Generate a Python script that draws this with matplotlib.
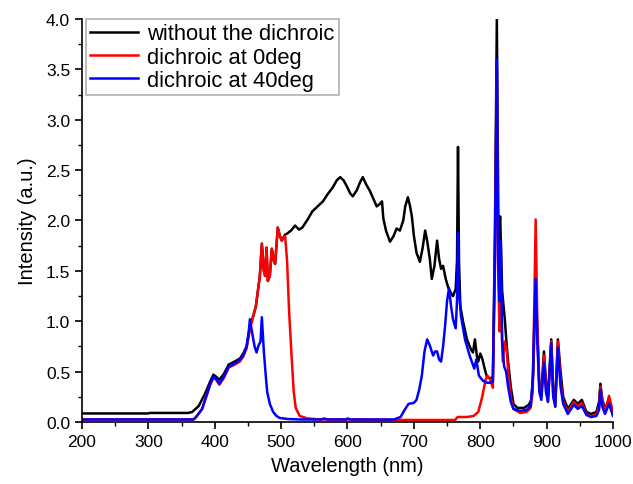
import matplotlib
matplotlib.use("Agg")
import matplotlib.pyplot as plt
from matplotlib.ticker import MultipleLocator

plt.rcParams["font.family"] = ["Liberation Sans", "DejaVu Sans"]

# spectra (wavelength in nm, intensity in a.u.)
wl_black = [200, 300, 302, 360, 366, 376, 386, 393, 398, 402, 407, 414, 421, 430, 438, 443, 448,
            453, 458, 462, 465, 468, 471, 474, 476, 478, 480, 483, 486, 489, 491, 495, 498, 501, 506,
            509, 515, 521, 527, 532, 540, 547, 555, 563, 570, 578, 584, 589, 594, 599, 604, 608, 614,
            619, 623, 628, 634, 640, 644, 648, 652, 654, 658, 664, 669, 674, 679, 684, 687, 691, 694,
            697, 700, 704, 709, 713, 717, 720, 724, 727, 731, 735, 738, 741, 744, 748, 752, 756, 759,
            763, 765, 766.5, 768, 770, 774, 780, 786, 789, 792, 795, 797, 800, 803, 807, 810, 815, 819,
            822, 825, 827.5, 830, 833, 837, 840, 842, 846, 850, 856, 866, 873, 877, 880, 883.5, 886,
            889, 892, 896, 899, 902, 907, 910, 913, 917, 921, 925, 932, 941, 947, 953, 960, 967, 975,
            979, 981, 984, 988, 994, 997, 1000]
black = [0.085, 0.085, 0.09, 0.09, 0.10, 0.16, 0.29, 0.40, 0.47, 0.45, 0.42, 0.48, 0.57, 0.60, 0.63,
         0.68, 0.75, 0.95, 1.05, 1.15, 1.30, 1.45, 1.77, 1.50, 1.45, 1.73, 1.40, 1.45, 1.72, 1.60,
         1.57, 1.93, 1.85, 1.80, 1.86, 1.87, 1.90, 1.95, 1.91, 1.93, 2.01, 2.09, 2.14, 2.19, 2.26,
         2.33, 2.40, 2.43, 2.40, 2.34, 2.27, 2.24, 2.30, 2.38, 2.43, 2.36, 2.29, 2.20, 2.14, 2.16,
         2.19, 2.02, 1.90, 1.79, 1.84, 1.92, 1.90, 2.00, 2.14, 2.23, 2.15, 2.04, 1.85, 1.68, 1.59,
         1.72, 1.90, 1.80, 1.62, 1.42, 1.55, 1.80, 1.62, 1.52, 1.55, 1.42, 1.33, 1.28, 1.25, 1.32,
         1.60, 2.73, 1.60, 1.15, 1.00, 0.82, 0.72, 0.69, 0.82, 0.65, 0.60, 0.68, 0.63, 0.52, 0.45,
         0.43, 0.45, 1.80, 4.00, 1.80, 2.04, 1.30, 1.02, 0.75, 0.60, 0.35, 0.18, 0.14, 0.14, 0.17,
         0.22, 0.50, 1.45, 0.90, 0.35, 0.30, 0.70, 0.40, 0.26, 0.82, 0.30, 0.22, 0.82, 0.50, 0.25,
         0.13, 0.22, 0.18, 0.22, 0.10, 0.08, 0.10, 0.20, 0.38, 0.22, 0.13, 0.22, 0.16, 0.08]

wl_red = [200, 368, 372, 381, 387, 393, 398, 402, 407, 414, 421, 430, 438, 443, 448, 453, 458, 462,
          465, 468, 471, 474, 476, 478, 480, 483, 486, 489, 491, 495, 498, 501, 506, 509, 512, 516,
          519, 522, 528, 540, 560, 600, 700, 762, 766, 780, 790, 797, 803, 808, 811, 815, 819, 822,
          825, 827, 829, 831, 834, 837, 840, 842, 846, 850, 860, 870, 876, 879, 881, 883.5, 886, 889,
          892, 896, 899, 902, 907, 910, 913, 917, 921, 925, 932, 941, 947, 953, 960, 967, 975, 979,
          981, 984, 988, 994, 997, 1000]
red = [0.025, 0.025, 0.05, 0.13, 0.25, 0.37, 0.44, 0.42, 0.37, 0.44, 0.54, 0.57, 0.60, 0.65, 0.73,
       0.92, 1.05, 1.15, 1.30, 1.45, 1.77, 1.50, 1.45, 1.73, 1.40, 1.45, 1.72, 1.60, 1.57, 1.93,
       1.85, 1.80, 1.85, 1.60, 1.10, 0.63, 0.30, 0.14, 0.06, 0.035, 0.025, 0.025, 0.02, 0.02, 0.05,
       0.05, 0.06, 0.10, 0.25, 0.42, 0.46, 0.42, 0.34, 1.50, 3.50, 1.50, 0.90, 1.20, 0.60, 0.80,
       0.70, 0.50, 0.25, 0.13, 0.09, 0.10, 0.14, 0.30, 1.00, 2.01, 1.00, 0.35, 0.25, 0.66, 0.35,
       0.20, 0.80, 0.25, 0.18, 0.80, 0.40, 0.20, 0.10, 0.20, 0.15, 0.19, 0.08, 0.05, 0.08, 0.15,
       0.35, 0.20, 0.10, 0.26, 0.18, 0.07]

wl_blue = [200, 368, 372, 381, 387, 393, 398, 402, 407, 414, 421, 430, 438, 443, 448, 451, 453, 456,
           460, 463, 466, 469, 471, 474, 477, 479, 483, 488, 493, 498, 510, 530, 560, 565, 570, 598,
           600, 605, 670, 680, 686, 692, 700, 704, 708, 712, 716, 720, 724, 729, 732, 735, 738, 741,
           744, 747, 750, 753, 756, 759, 763, 765, 766.5, 768, 771, 777, 784, 791, 794, 798, 804, 810,
           816, 819, 822, 825, 827, 829, 831, 833, 836, 839, 842, 846, 850, 860, 870, 876, 879, 881,
           883.5, 886, 889, 892, 896, 899, 902, 907, 910, 913, 917, 921, 925, 932, 941, 947, 953, 960,
           967, 975, 979, 981, 984, 988, 994, 997, 1000]
blue = [0.025, 0.025, 0.05, 0.13, 0.25, 0.37, 0.45, 0.43, 0.38, 0.45, 0.55, 0.58, 0.62, 0.66, 0.75,
        0.88, 1.02, 0.90, 0.75, 0.69, 0.76, 0.80, 1.04, 0.70, 0.45, 0.30, 0.18, 0.10, 0.06, 0.04,
        0.03, 0.025, 0.025, 0.035, 0.025, 0.025, 0.035, 0.025, 0.025, 0.05, 0.12, 0.18, 0.19, 0.22,
        0.32, 0.46, 0.70, 0.82, 0.76, 0.66, 0.70, 0.70, 0.62, 0.60, 0.75, 0.95, 1.20, 1.33, 1.15,
        1.02, 0.93, 1.20, 1.88, 1.30, 1.05, 0.82, 0.66, 0.53, 0.62, 0.46, 0.41, 0.39, 0.39, 0.40,
        1.60, 3.60, 1.60, 1.20, 1.80, 0.80, 0.55, 0.50, 0.35, 0.20, 0.13, 0.11, 0.12, 0.16, 0.40,
        0.90, 1.42, 0.80, 0.30, 0.22, 0.59, 0.30, 0.20, 0.78, 0.25, 0.15, 0.74, 0.35, 0.18, 0.08,
        0.17, 0.13, 0.16, 0.07, 0.05, 0.06, 0.12, 0.32, 0.15, 0.08, 0.18, 0.12, 0.06]

labels = ["without the dichroic", "dichroic at 0deg", "dichroic at 40deg"]
colors = ["black", "#ff0000", "#0000ff"]

fig = plt.figure(figsize=(6.33, 4.85), dpi=100)
ax = fig.add_axes([0.1295, 0.1278, 0.8389, 0.831])

for x, y, lab, c in zip([wl_black, wl_red, wl_blue], [black, red, blue], labels, colors):
    ax.plot(x, y, color=c, lw=1.8, label=lab)

ax.set_xlim(200, 1000)
ax.set_ylim(0, 4)
ax.xaxis.set_major_locator(MultipleLocator(100))
ax.xaxis.set_minor_locator(MultipleLocator(50))
ax.yaxis.set_major_locator(MultipleLocator(0.5))
ax.yaxis.set_minor_locator(MultipleLocator(0.25))
ax.yaxis.set_major_formatter(plt.FormatStrFormatter("%.1f"))
for s in ["top", "right"]:
    ax.spines[s].set_visible(False)
for s in ["left", "bottom"]:
    ax.spines[s].set_linewidth(1.2)
ax.tick_params(which="major", direction="out", length=5, width=1.2, labelsize=12.5)
ax.tick_params(which="minor", direction="out", length=3, width=1.0)
ax.set_xlabel("Wavelength (nm)", fontsize=14.5, labelpad=5)
ax.set_ylabel("Intensity (a.u.)", fontsize=14.5, labelpad=6)

leg = ax.legend(loc="upper left", bbox_to_anchor=(0.007, 1.0), fontsize=15.8, frameon=True,
                fancybox=False, framealpha=1, edgecolor="#b0b0b0", handlelength=2.2,
                handletextpad=0.4, borderpad=0.2, labelspacing=0.1, borderaxespad=0)
leg.get_frame().set_linewidth(1.2)

fig.savefig("out.png", dpi=100)
